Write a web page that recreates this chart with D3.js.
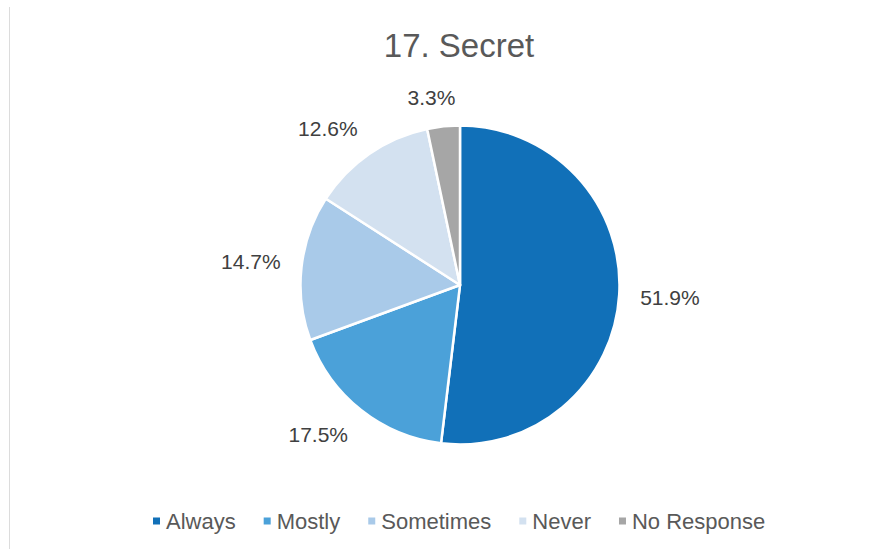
<!DOCTYPE html>
<html>
<head>
<meta charset="utf-8">
<script src="https://cdn.jsdelivr.net/npm/d3@7"></script>
<style>
  html, body { margin: 0; padding: 0; background: #ffffff; }
  svg { display: block; }
  text { font-family: "Liberation Sans", Arial, sans-serif; }
</style>
</head>
<body>
<svg id="chart" width="894" height="549"></svg>
<script>
const title = "17. Secret";
const categories = ["Always", "Mostly", "Sometimes", "Never", "No Response"];
const values = [51.9, 17.5, 14.7, 12.6, 3.3];
const labels = ["51.9%", "17.5%", "14.7%", "12.6%", "3.3%"];
const colors = ["#1170b8", "#4ba1d9", "#a9cae9", "#d3e1f0", "#a6a6a6"];

const W = 894, H = 549;
const cx = 460, cy = 285, R = 159.5;

const svg = d3.select("#chart");
svg.append("rect").attr("width", W).attr("height", H).attr("fill", "#ffffff");
svg.append("line").attr("x1", 9.5).attr("x2", 9.5).attr("y1", 7).attr("y2", H)
  .attr("stroke", "#dcdcdc").attr("stroke-width", 1);

svg.append("text").attr("x", 459).attr("y", 57).attr("text-anchor", "middle")
  .attr("font-size", 33).attr("fill", "#595959").text(title);

const data = categories.map((c, i) => ({ cat: c, value: values[i], label: labels[i], color: colors[i] }));
const pie = d3.pie().sort(null).value(d => d.value);
const arcs = pie(data);
const arc = d3.arc().innerRadius(0).outerRadius(R);

const g = svg.append("g").attr("transform", `translate(${cx},${cy})`);
g.selectAll("path").data(arcs).join("path")
  .attr("d", arc)
  .attr("fill", d => d.data.color)
  .attr("stroke", "#ffffff").attr("stroke-width", 2.5).attr("stroke-linejoin", "round");

// outside-end labels: anchor point just outside the rim, box pushed away from it
const fs = 21, gap = 21, k = 4;
const clamp = v => Math.max(-1, Math.min(1, v));
const lbl = g.selectAll("text.lbl").data(arcs).join("text").attr("class", "lbl")
  .attr("font-size", fs).attr("fill", "#404040").attr("text-anchor", "middle")
  .attr("dominant-baseline", "central").text(d => d.data.label);
lbl.each(function(d) {
  const w = this.getComputedTextLength();
  const h = fs * 0.75;
  const a = (d.startAngle + d.endAngle) / 2;
  const ux = Math.sin(a), uy = -Math.cos(a);
  const px = ux * (R + gap), py = uy * (R + gap);
  d3.select(this)
    .attr("x", px + clamp(ux * k) * w / 2)
    .attr("y", py + clamp(uy * k) * h / 2);
});

// legend
const legFs = 22, sq = 7, sqGap = 6, itemGap = 28;
const leg = svg.append("g");
let x = 153;
const ly = 521;
data.forEach(d => {
  leg.append("rect").attr("x", x).attr("y", ly - sq / 2).attr("width", sq).attr("height", sq).attr("fill", d.color);
  const t = leg.append("text").attr("x", x + sq + sqGap).attr("y", ly).attr("dominant-baseline", "central")
    .attr("font-size", legFs).attr("fill", "#595959").text(d.cat);
  x += sq + sqGap + t.node().getComputedTextLength() + itemGap;
});
</script>
</body>
</html>
